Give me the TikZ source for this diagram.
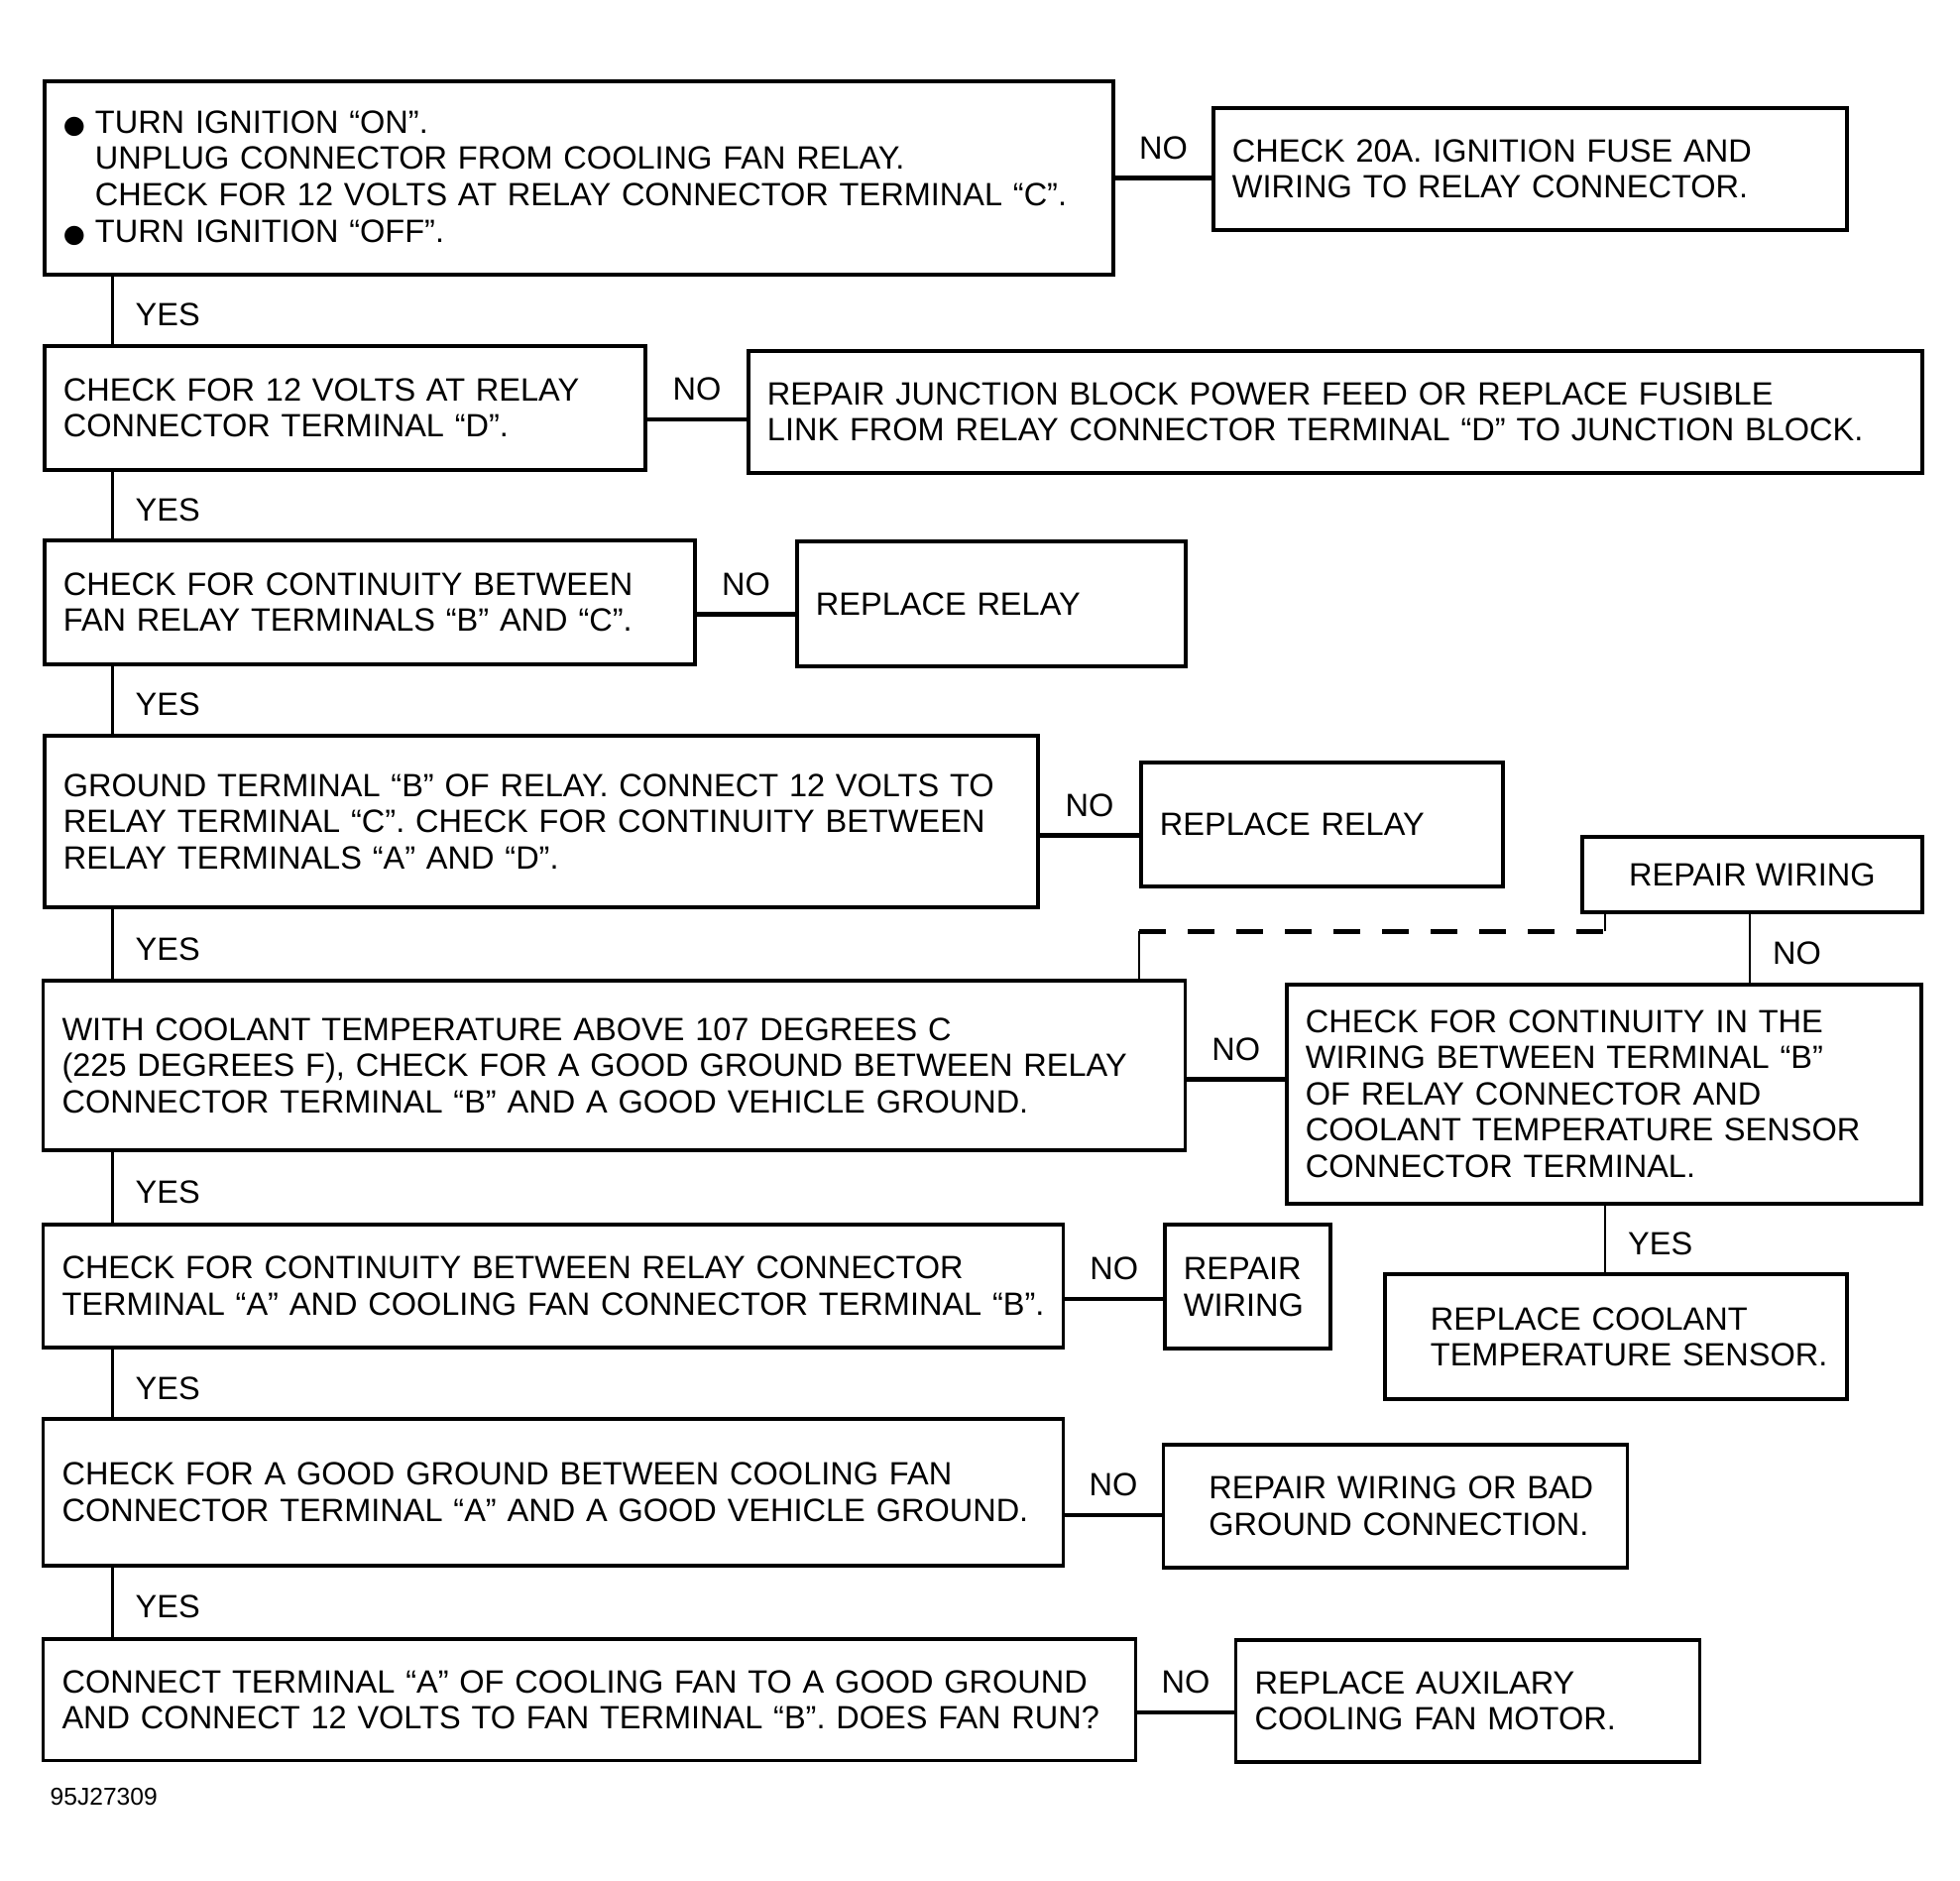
\documentclass[tikz,border=0pt]{standalone}
\usepackage{fontspec}
\setmainfont{Liberation Sans}
\newfontfamily\dotfont{DejaVu Sans}
\newcommand{\bul}{\makebox[0.32cm][l]{\dotfont\fontsize{7.2}{10.4}\selectfont ●}}
\newcommand{\ind}{\hspace*{0.32cm}}

\tikzset{
  box/.style={draw,line width=1.1pt,anchor=north west,align=left,inner xsep=0.19cm,inner ysep=0pt},
  noline/.style={line width=1.2pt},
  yesline/.style={line width=0.7pt},
  dashline/.style={line width=1.4pt,dash pattern=on 0.27cm off 0.22cm},
  nolab/.style={above=0.17cm,inner sep=0pt},
  yeslab/.style={right=0.22cm,inner sep=0pt,yshift=-0.05cm}
}
\tikzstyle{every node}=[font=\fontsize{9.25}{10.4}\selectfont]

\begin{document}
\begin{tikzpicture}
    \useasboundingbox (0,0) rectangle (19.77,-18.96);
    \coordinate (spine) at (1.135,0);
    \coordinate (noX) at (17.65,0);
    \coordinate (dashL) at (11.49,-9.393);
    \coordinate (dashR) at (16.19,-9.393);

    \node[box,minimum width=10.78cm,text width=10.40cm,minimum height=1.95cm] (ign) at (0.43,-0.80)
      {\bul TURN IGNITION “ON”.\\ \ind UNPLUG CONNECTOR FROM COOLING FAN RELAY.\\ \ind \mbox{CHECK FOR 12 VOLTS AT RELAY CONNECTOR TERMINAL “C”.}\\ \bul TURN IGNITION “OFF”.};
    \node[box,minimum width=6.39cm,text width=6.01cm,minimum height=1.23cm] (fuse) at (12.22,-1.07)
      {CHECK 20A. IGNITION FUSE AND\\ WIRING TO RELAY CONNECTOR.};
    \node[box,minimum width=6.06cm,text width=5.68cm,minimum height=1.25cm] (termD) at (0.43,-3.467)
      {CHECK FOR 12 VOLTS AT RELAY\\ CONNECTOR TERMINAL “D”.};
    \node[box,minimum width=11.84cm,text width=11.46cm,minimum height=1.233cm] (junct) at (7.53,-3.517)
      {REPAIR JUNCTION BLOCK POWER FEED OR REPLACE FUSIBLE\\ LINK FROM RELAY CONNECTOR TERMINAL “D” TO JUNCTION BLOCK.};
    \node[box,minimum width=6.56cm,text width=6.18cm,minimum height=1.244cm] (relayBC) at (0.43,-5.433)
      {CHECK FOR CONTINUITY BETWEEN\\ FAN RELAY TERMINALS “B” AND “C”.};
    \node[box,minimum width=3.92cm,text width=3.54cm,minimum height=1.257cm] (relay1) at (8.02,-5.443)
      {REPLACE RELAY};
    \node[box,minimum width=10.02cm,text width=9.64cm,minimum height=1.733cm] (relayAD) at (0.43,-7.40)
      {\mbox{GROUND TERMINAL “B” OF RELAY. CONNECT 12 VOLTS TO}\\ RELAY TERMINAL “C”. CHECK FOR CONTINUITY BETWEEN\\ RELAY TERMINALS “A” AND “D”.};
    \node[box,minimum width=3.65cm,text width=3.27cm,minimum height=1.25cm] (relay2) at (11.49,-7.667)
      {REPLACE RELAY};
    \node[box,align=center,minimum width=3.43cm,minimum height=0.766cm] (wire1) at (15.94,-8.417)
      {REPAIR WIRING};
    \node[box,minimum width=11.52cm,text width=11.14cm,minimum height=1.716cm] (gnd) at (0.416,-9.867)
      {WITH COOLANT TEMPERATURE ABOVE 107 DEGREES C\\ (225 DEGREES F), CHECK FOR A GOOD GROUND BETWEEN RELAY\\ CONNECTOR TERMINAL “B” AND A GOOD VEHICLE GROUND.};
    \node[box,minimum width=6.40cm,text width=6.02cm,minimum height=2.21cm] (wireCont) at (12.96,-9.907)
      {CHECK FOR CONTINUITY IN THE\\ WIRING BETWEEN TERMINAL “B”\\ OF RELAY CONNECTOR AND\\ COOLANT TEMPERATURE SENSOR\\ CONNECTOR TERMINAL.};
    \node[box,inner xsep=0.46cm,minimum width=4.66cm,text width=3.74cm,minimum height=1.257cm] (sensor) at (13.95,-12.833)
      {REPLACE COOLANT\\ \mbox{TEMPERATURE SENSOR.}};
    \node[box,minimum width=10.29cm,text width=9.91cm,minimum height=1.234cm] (contA) at (0.416,-12.333)
      {CHECK FOR CONTINUITY BETWEEN RELAY CONNECTOR\\ \mbox{TERMINAL “A” AND COOLING FAN CONNECTOR TERMINAL “B”.}};
    \node[box,minimum width=1.67cm,text width=1.29cm,minimum height=1.25cm] (wire2) at (11.73,-12.333)
      {\mbox{REPAIR}\\ \mbox{WIRING}};
    \node[box,minimum width=10.29cm,text width=9.91cm,minimum height=1.474cm] (fanGnd) at (0.416,-14.293)
      {CHECK FOR A GOOD GROUND BETWEEN COOLING FAN\\ \mbox{CONNECTOR TERMINAL “A” AND A GOOD VEHICLE GROUND.}};
    \node[box,inner xsep=0.46cm,minimum width=4.68cm,text width=3.76cm,minimum height=1.24cm] (badGnd) at (11.715,-14.55)
      {\mbox{REPAIR WIRING OR BAD}\\ \mbox{GROUND CONNECTION.}};
    \node[box,minimum width=11.02cm,text width=10.64cm,minimum height=1.225cm] (fanRun) at (0.416,-16.51)
      {CONNECT TERMINAL “A” OF COOLING FAN TO A GOOD GROUND\\ \mbox{AND CONNECT 12 VOLTS TO FAN TERMINAL “B”. DOES FAN RUN?}};
    \node[box,minimum width=4.68cm,text width=4.30cm,minimum height=1.233cm] (motor) at (12.446,-16.517)
      {REPLACE AUXILARY\\ COOLING FAN MOTOR.};
    \node[anchor=west,inner sep=0pt,font=\fontsize{7}{8}\selectfont] (figno) at (0.50,-18.12) {95J27309};

    \draw[yesline] (ign.south -| spine) -- node[yeslab]{YES} (termD.north -| spine);
    \draw[yesline] (termD.south -| spine) -- node[yeslab]{YES} (relayBC.north -| spine);
    \draw[yesline] (relayBC.south -| spine) -- node[yeslab]{YES} (relayAD.north -| spine);
    \draw[yesline] (relayAD.south -| spine) -- node[yeslab]{YES} (gnd.north -| spine);
    \draw[yesline] (gnd.south -| spine) -- node[yeslab]{YES} (contA.north -| spine);
    \draw[yesline] (contA.south -| spine) -- node[yeslab]{YES} (fanGnd.north -| spine);
    \draw[yesline] (fanGnd.south -| spine) -- node[yeslab]{YES} (fanRun.north -| spine);
    \draw[yesline] (wireCont.north -| noX) -- node[yeslab]{NO} (wire1.south -| noX);
    \draw[yesline] (wireCont.south -| dashR) -- node[yeslab]{YES} (sensor.north -| dashR);

    \draw[noline] (ign.east) -- node[nolab]{NO} (ign.east -| fuse.west);
    \draw[noline] ([yshift=-0.12cm]termD.east) -- node[nolab]{NO} ([yshift=-0.12cm]termD.east -| junct.west);
    \draw[noline] ([yshift=-0.12cm]relayBC.east) -- node[nolab]{NO} ([yshift=-0.12cm]relayBC.east -| relay1.west);
    \draw[noline] ([yshift=-0.14cm]relayAD.east) -- node[nolab]{NO} ([yshift=-0.14cm]relayAD.east -| relay2.west);
    \draw[noline] ([yshift=-0.14cm]gnd.east) -- node[nolab]{NO} ([yshift=-0.14cm]gnd.east -| wireCont.west);
    \draw[noline] ([yshift=-0.13cm]contA.east) -- node[nolab]{NO} ([yshift=-0.13cm]contA.east -| wire2.west);
    \draw[noline] ([yshift=-0.23cm]fanGnd.east) -- node[nolab]{NO} ([yshift=-0.23cm]fanGnd.east -| badGnd.west);
    \draw[noline] ([yshift=-0.13cm]fanRun.east) -- node[nolab]{NO} ([yshift=-0.13cm]fanRun.east -| motor.west);

    \draw[yesline] (gnd.north -| dashL) -- (dashL);
    \draw[dashline] (dashL) -- (dashR);
    \draw[yesline] (dashR) -- (wire1.south -| dashR);
\end{tikzpicture}
\end{document}
